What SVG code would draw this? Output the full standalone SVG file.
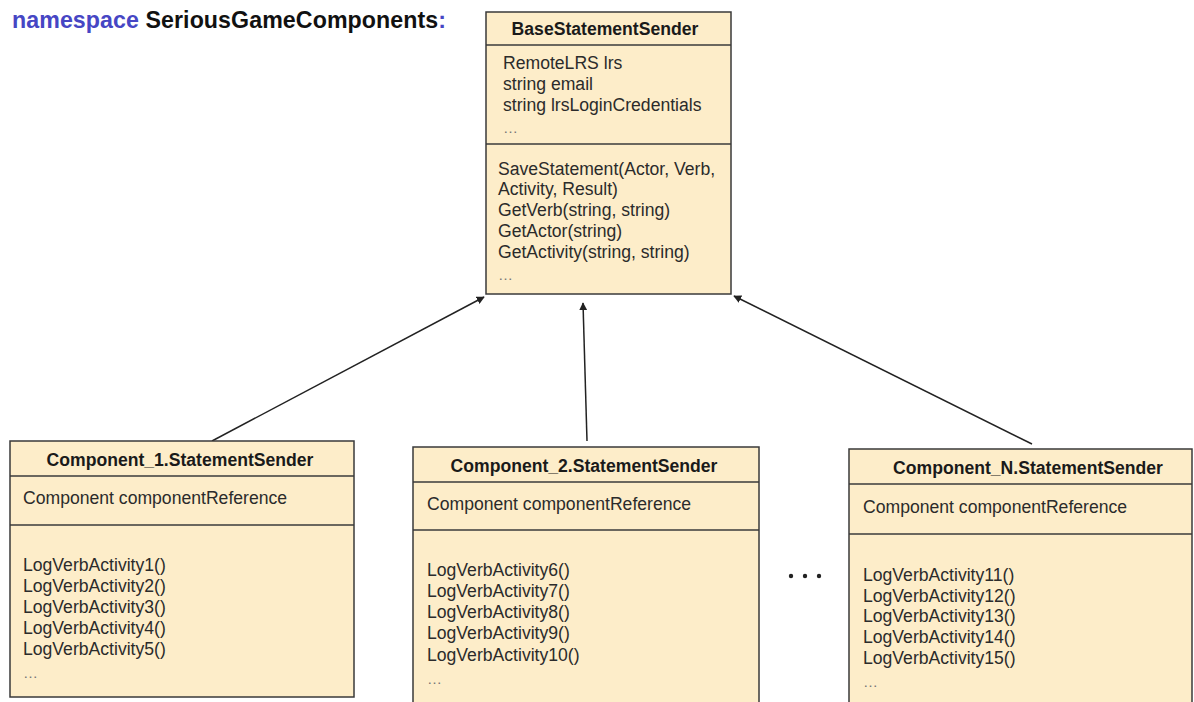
<svg xmlns="http://www.w3.org/2000/svg" width="1194" height="702" viewBox="0 0 1194 702">
  <style>
    .box { fill: #fdedc9; stroke: #3a3a3a; stroke-width: 1.5; }
    .sep { stroke: #3a3a3a; stroke-width: 1.5; }
    .title { font-family: "Liberation Sans", Arial, sans-serif; font-size: 17.6px; font-weight: bold; fill: #1a1a1a; text-anchor: middle; }
    .txt { font-family: "Liberation Sans", Arial, sans-serif; font-size: 17.6px; fill: #2b2b2b; }
    .dim { font-family: "Liberation Sans", Arial, sans-serif; font-size: 15px; fill: #777; }
    .edge { stroke: #222; stroke-width: 1.5; fill: none; marker-end: url(#head); }
  </style>
  <defs>
    <marker id="head" viewBox="0 0 10 10" refX="9" refY="5" markerWidth="8" markerHeight="8" markerUnits="userSpaceOnUse" orient="auto">
      <path d="M0,0 L10,5 L0,10 z" fill="#222"/>
    </marker>
  </defs>

  <rect width="1194" height="702" fill="#ffffff"/>

  <text x="12" y="28" font-family="Liberation Sans, Arial, sans-serif" font-size="23.2" font-weight="bold" textLength="434" lengthAdjust="spacing"><tspan fill="#4646c4">namespace</tspan><tspan fill="#111"> SeriousGameComponents</tspan><tspan fill="#4646c4">:</tspan></text>

  <g id="connectors">
    <line class="edge" x1="212" y1="441" x2="484" y2="297"/>
    <line class="edge" x1="587" y1="441" x2="583" y2="303"/>
    <line class="edge" x1="1032" y1="444" x2="734" y2="296"/>
  </g>

  <g id="base-statement-sender">
    <rect class="box" x="486" y="12" width="245" height="282"/>
    <line class="sep" x1="486" y1="45" x2="731" y2="45"/>
    <line class="sep" x1="486" y1="144" x2="731" y2="144"/>
    <text class="title" x="605" y="35">BaseStatementSender</text>
    <text class="txt" x="503" y="69">RemoteLRS lrs</text>
    <text class="txt" x="503" y="90">string email</text>
    <text class="txt" x="503" y="111">string lrsLoginCredentials</text>
    <text class="dim" x="503" y="133">…</text>
    <text class="txt" x="498" y="175">SaveStatement(Actor, Verb,</text>
    <text class="txt" x="498" y="195">Activity, Result)</text>
    <text class="txt" x="498" y="216">GetVerb(string, string)</text>
    <text class="txt" x="498" y="237">GetActor(string)</text>
    <text class="txt" x="498" y="258">GetActivity(string, string)</text>
    <text class="dim" x="498" y="280">…</text>
  </g>

  <g id="component-1-sender">
    <rect class="box" x="10" y="441" width="344" height="256"/>
    <line class="sep" x1="10" y1="476" x2="354" y2="476"/>
    <line class="sep" x1="10" y1="525" x2="354" y2="525"/>
    <text class="title" x="180" y="466">Component_1.StatementSender</text>
    <text class="txt" x="23" y="504">Component componentReference</text>
    <text class="txt" x="23" y="571">LogVerbActivity1()</text>
    <text class="txt" x="23" y="592">LogVerbActivity2()</text>
    <text class="txt" x="23" y="613">LogVerbActivity3()</text>
    <text class="txt" x="23" y="634">LogVerbActivity4()</text>
    <text class="txt" x="23" y="655">LogVerbActivity5()</text>
    <text class="dim" x="23" y="678">…</text>
  </g>

  <g id="component-2-sender">
    <rect class="box" x="413" y="447" width="346" height="262"/>
    <line class="sep" x1="413" y1="482" x2="759" y2="482"/>
    <line class="sep" x1="413" y1="530" x2="759" y2="530"/>
    <text class="title" x="584" y="472">Component_2.StatementSender</text>
    <text class="txt" x="427" y="510">Component componentReference</text>
    <text class="txt" x="427" y="576">LogVerbActivity6()</text>
    <text class="txt" x="427" y="597">LogVerbActivity7()</text>
    <text class="txt" x="427" y="618">LogVerbActivity8()</text>
    <text class="txt" x="427" y="639">LogVerbActivity9()</text>
    <text class="txt" x="427" y="661">LogVerbActivity10()</text>
    <text class="dim" x="427" y="684">…</text>
  </g>

  <g id="more-components">
    <circle cx="791" cy="576" r="2.2" fill="#222"/>
    <circle cx="805" cy="576" r="2.2" fill="#222"/>
    <circle cx="819" cy="576" r="2.2" fill="#222"/>
  </g>

  <g id="component-n-sender">
    <rect class="box" x="849" y="449" width="343" height="262"/>
    <line class="sep" x1="849" y1="484" x2="1192" y2="484"/>
    <line class="sep" x1="849" y1="534" x2="1192" y2="534"/>
    <text class="title" x="1028" y="474">Component_N.StatementSender</text>
    <text class="txt" x="863" y="513">Component componentReference</text>
    <text class="txt" x="863" y="581">LogVerbActivity11()</text>
    <text class="txt" x="863" y="602">LogVerbActivity12()</text>
    <text class="txt" x="863" y="622">LogVerbActivity13()</text>
    <text class="txt" x="863" y="643">LogVerbActivity14()</text>
    <text class="txt" x="863" y="664">LogVerbActivity15()</text>
    <text class="dim" x="863" y="687">…</text>
  </g>
</svg>
